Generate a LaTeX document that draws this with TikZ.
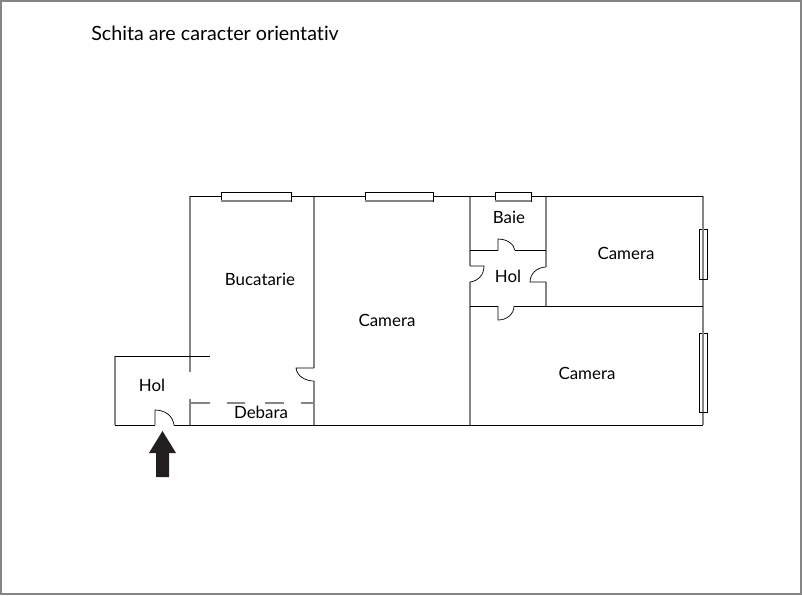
\documentclass[tikz,border=0pt]{standalone}
\usepackage{fontspec}
\setmainfont[Ligatures=NoCommon]{Lato}
\definecolor{wallgray}{HTML}{858585}
\definecolor{arrowblack}{HTML}{231F20}
\tikzset{
	wallv/.style={color=wallgray, line width=1.1pt},
	wallh/.style={color=black, line width=0.6pt},
	door/.style={color=black, line width=0.5pt},
	window/.style={draw=black, line width=0.5pt},
	roomlabel/.style={font=\fontsize{12}{14}\selectfont, inner sep=0pt, text=black}
}
\begin{document}
\begin{tikzpicture}[x=0.025cm, y=-0.025cm]
	\useasboundingbox (0,0) rectangle (802,595);
	\draw[color=wallgray, line width=1.4pt] (1,1) rectangle (801,594);

	\node[anchor=west, inner sep=0pt, font=\fontsize{14}{17}\selectfont] (title) at (91,33.5) {Schita are caracter orientativ};

	% vertical walls
	\draw[wallv] (115,356) -- (115,425);
	\draw[wallv] (190,196) -- (190,372);
	\draw[wallv] (190,399) -- (190,425);
	\draw[wallv] (314,196) -- (314,368);
	\draw[wallv] (314,381) -- (314,425);
	\draw[wallv] (470,196) -- (470,266);
	\draw[wallv] (470,282) -- (470,425);
	\draw[wallv] (546,196) -- (546,267);
	\draw[wallv] (546,282) -- (546,306);
	\draw[wallv] (703,196) -- (703,425);

	% horizontal walls
	\draw[wallh] (190,196) -- (703,196);
	\draw[wallh] (115,356) -- (210,356);
	\draw[wallh] (115,425) -- (155,425);
	\draw[wallh] (174,425) -- (703,425);
	\draw[wallh] (470,250.5) -- (498,250.5);
	\draw[wallh] (515,250.5) -- (546,250.5);
	\draw[wallh] (470,306) -- (498,306);
	\draw[wallh] (514,306) -- (703,306);

	% debara partition
	\foreach \xa/\xb in {190/210, 227/245, 265/284, 301/314}
		\draw[wallv] (\xa,403) -- (\xb,403);

	% doors
	\draw[door] (155,425) -- (155,410) .. controls (165,410) and (173,416) .. (174,425);
	\draw[door] (314,368) -- (296,368) .. controls (297,376) and (305,381) .. (314,381);
	\draw[door] (470,266) -- (484,266) .. controls (484,275) and (478,281) .. (470,282);
	\draw[door] (498,250.5) -- (498,239) .. controls (507,239) and (514,244) .. (515,250.5);
	\draw[door] (546,282) -- (530,282) .. controls (530,274) and (537,267) .. (546,267);
	\draw[door] (498,306) -- (498,320) .. controls (507,320) and (514,314) .. (514,306);

	% windows
	\foreach \xa/\xb in {221/291, 365/433, 495/531}
		\draw[window, fill=white] (\xa,192) rectangle (\xb,201);
	\foreach \ya/\yb in {229/279, 333/412}
		\draw[window, fill=white] (699,\ya) rectangle (707,\yb);
	\draw[wallv] (221,201) -- (291,201);
	\draw[wallv] (365,201) -- (433,201);
	\draw[wallv] (495,201) -- (531,201);
	\draw[wallv] (703,229) -- (703,279);
	\draw[wallv] (703,333) -- (703,412);

	% entrance arrow
	\fill[arrowblack] (162.5,431) -- (176,453) -- (169,453) -- (169,477) -- (156,477) -- (156,453) -- (149,453) -- cycle;

	\node[roomlabel] (holentry) at (152,385) {Hol};
	\node[roomlabel] (debara) at (261,412.5) {Debara};
	\node[roomlabel] (bucatarie) at (260,279.5) {Bucatarie};
	\node[roomlabel] (cameramid) at (387,320.5) {Camera};
	\node[roomlabel] (baie) at (509,217.5) {Baie};
	\node[roomlabel] (holinner) at (508,276.5) {Hol};
	\node[roomlabel] (cameraupper) at (626,253.5) {Camera};
	\node[roomlabel] (cameralower) at (587,373.5) {Camera};
\end{tikzpicture}
\end{document}
